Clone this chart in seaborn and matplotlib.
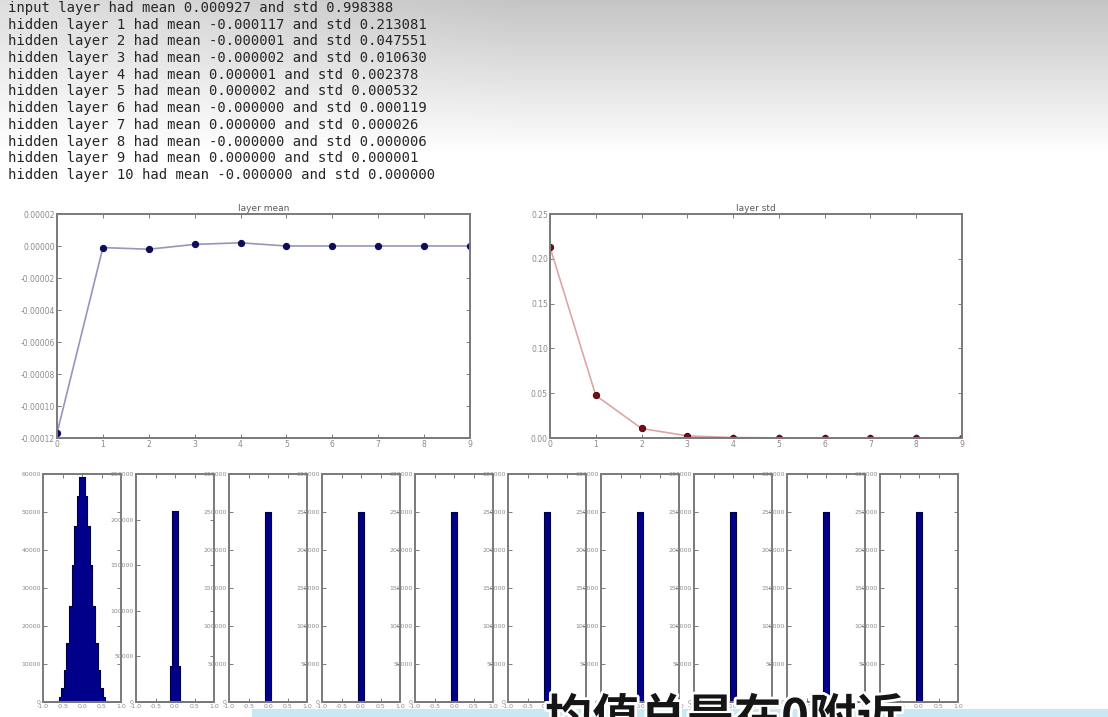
import matplotlib
matplotlib.use("Agg")
import matplotlib.pyplot as plt
import matplotlib.patheffects as pe
from matplotlib.patches import Rectangle
from matplotlib.ticker import FuncFormatter
import numpy as np
import pandas as pd
import seaborn as sns

# values printed / plotted for each layer
input_mean = 0.000927
input_std = 0.998388
layer_ids = [1, 2, 3, 4, 5, 6, 7, 8, 9, 10]
layer_means = [-0.000117, -0.000001, -0.000002, 0.000001, 0.000002,
               -0.0, 0.0, -0.0, 0.0, -0.0]
layer_stds = [0.213081, 0.047551, 0.010630, 0.002378, 0.000532,
              0.000119, 0.000026, 0.000006, 0.000001, 0.000000]

# histogram counts per layer, 30 bins over [-1, 1]
hist_layer1 = [0, 0, 0, 0, 80, 350, 1200, 3700, 8500, 15500, 25200, 36100, 46200, 54100, 59100,
               59100, 54100, 46200, 36100, 25200, 15500, 8500, 3700, 1200, 350, 80, 0, 0, 0, 0]
hist_layer2 = [0, 0, 0, 0, 0, 0, 0, 0, 0, 0, 0, 0, 1500, 39100, 209000,
               209000, 39100, 1500, 0, 0, 0, 0, 0, 0, 0, 0, 0, 0, 0, 0]
hist_collapsed = [0, 0, 0, 0, 0, 0, 0, 0, 0, 0, 0, 0, 0, 0, 250000,
                  250000, 0, 0, 0, 0, 0, 0, 0, 0, 0, 0, 0, 0, 0, 0]
hist_counts = [hist_layer1, hist_layer2] + [hist_collapsed] * 8
hist_ymax = [60000, 250000] + [300000] * 8
hist_ystep = [10000] + [50000] * 9
hist_xticks = [-1.0, -0.5, 0.0, 0.5, 1.0]

subtitle = "均值总是在0附近"

W, H = 1108, 717
fig = plt.figure(figsize=(W / 100, H / 100), dpi=100)
sns.set_style("white")
plt.rcParams["axes.unicode_minus"] = False

# grey gradient at the top of the slide (lighter towards the left)
bg = fig.add_axes([0, 0, 1, 1], zorder=-10)
yy, xx = np.mgrid[0:H, 0:W]
top_val = 222 - 26 * np.clip(xx / 520, 0, 1)
shade = np.clip(top_val + (255 - top_val) * yy / 155, 0, 255) / 255
bg.imshow(shade, cmap="gray", vmin=0, vmax=1, aspect="auto",
          extent=[0, 1, 0, 1], interpolation="bilinear")
bg.set_axis_off()

# printed stats
lines = ["input layer had mean %f and std %f" % (input_mean, input_std)]
for i, m, s in zip(layer_ids, layer_means, layer_stds):
    lines.append("hidden layer %d had mean %f and std %f" % (i, m, s))
for k, txt in enumerate(lines):
    fig.text(8 / W, 1 - (8 + 16.7 * k) / H, txt, family="DejaVu Sans Mono",
             fontsize=10, color="#262626", va="center", ha="left")


def style_axes(ax, size):
    for sp in ax.spines.values():
        sp.set_visible(True)
        sp.set_color("#7a7a7a")
        sp.set_linewidth(1.4)
    ax.tick_params(labelsize=size, labelcolor="#8a8a8a", color="#666666",
                   direction="in", length=3, width=0.6, pad=1.5,
                   bottom=True, left=True, top=True, right=True)
    ax.set_facecolor("white")


def px_axes(left, top, right, bottom):
    return fig.add_axes([left / W, 1 - bottom / H, (right - left) / W, (bottom - top) / H])


x_pos = list(range(len(layer_ids)))

ax_mean = px_axes(57, 214, 470, 438)
sns.lineplot(x=x_pos, y=layer_means, ax=ax_mean, color="#9696bc", linewidth=1.2,
             marker="o", markersize=4.5, markerfacecolor="#0d0d5c",
             markeredgecolor="#0d0d5c")
ax_mean.set_xlim(0, 9)
ax_mean.set_ylim(-0.00012, 0.00002)
ax_mean.set_xticks(x_pos)
ax_mean.set_yticks(np.arange(-0.00012, 0.000021, 0.00002))
ax_mean.yaxis.set_major_formatter(FuncFormatter(
    lambda v, p: ("%.5f" % v).replace("-0.00000", "0.00000")))
ax_mean.set_title("layer mean", fontsize=6.5, color="#5a5a5a", pad=2)
style_axes(ax_mean, 5.5)

ax_std = px_axes(550, 214, 962, 438)
sns.lineplot(x=x_pos, y=layer_stds, ax=ax_std, color="#dba6a6", linewidth=1.2,
             marker="o", markersize=4.5, markerfacecolor="#7a0a18",
             markeredgecolor="#4a0a10")
ax_std.set_xlim(0, 9)
ax_std.set_ylim(0, 0.25)
ax_std.set_xticks(x_pos)
ax_std.set_yticks(np.arange(0, 0.251, 0.05))
ax_std.yaxis.set_major_formatter(FuncFormatter(lambda v, p: "%.2f" % v))
ax_std.set_title("layer std", fontsize=6.5, color="#5a5a5a", pad=2)
style_axes(ax_std, 5.5)

n_bins = 30
edges = np.linspace(-1, 1, n_bins + 1)
centers = (edges[:-1] + edges[1:]) / 2
for i, counts in enumerate(hist_counts):
    left = 43 + 93 * i
    ax = px_axes(left, 474, left + 78, 702)
    df = pd.DataFrame({"value": centers, "count": counts})
    sns.histplot(data=df, x="value", weights="count", bins=n_bins, binrange=(-1, 1),
                 ax=ax, element="step", fill=True, color="#00008b",
                 edgecolor="#000040", linewidth=0.8, alpha=1)
    ax.set_xlim(-1, 1)
    ax.set_ylim(0, hist_ymax[i])
    ax.set_xticks(hist_xticks)
    ax.set_yticks(np.arange(0, hist_ymax[i] + 1, hist_ystep[i]))
    ax.yaxis.set_major_formatter(FuncFormatter(lambda v, p: "%d" % v))
    ax.set_ylabel("")
    ax.set_xlabel("")
    style_axes(ax, 4.5)

# subtitle banner at the bottom
fig.add_artist(Rectangle((252 / W, 0), 1, 8 / H, transform=fig.transFigure,
                         facecolor="#c8e8f4", edgecolor="none", zorder=5))
fig.text(545 / W, 1 - 695 / H, subtitle, family=["Noto Sans CJK SC", "DejaVu Sans"],
         fontsize=34, fontweight="bold", color="#151515", va="top", ha="left",
         zorder=6, path_effects=[pe.withStroke(linewidth=4, foreground="white")])

fig.savefig("out.png", dpi=100)
